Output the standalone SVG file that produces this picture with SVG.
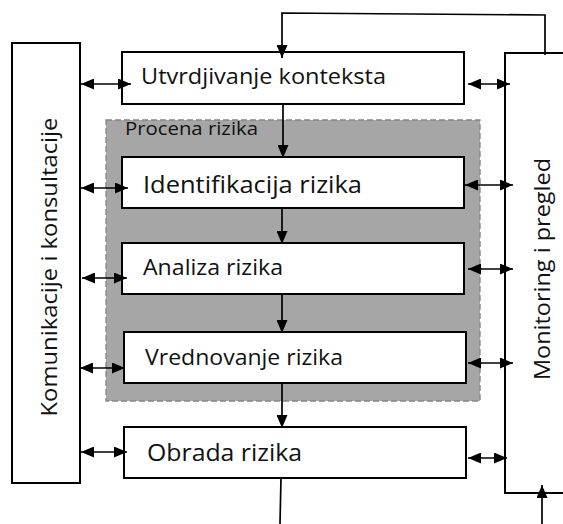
<svg xmlns="http://www.w3.org/2000/svg" width="563" height="524" viewBox="0 0 563 524">
  <style>
    .box { fill: #ffffff; stroke: #000000; stroke-width: 2; }
    .lbl { font-family: "Open Sans", "Noto Sans", sans-serif; fill: #111111; }
    .wire { fill: none; stroke: #000000; stroke-width: 1.7; }
    .two { marker-start: url(#headStart); marker-end: url(#headEnd); }
    .one { marker-end: url(#headEnd); }
  </style>
  <defs>
    <marker id="headEnd" viewBox="0 0 13 11" refX="13" refY="5.5" markerWidth="13" markerHeight="11" markerUnits="userSpaceOnUse" orient="auto">
      <path d="M0,0 L13,5.5 L0,11 Z" fill="#000000"/>
    </marker>
    <marker id="headStart" viewBox="0 0 13 11" refX="0" refY="5.5" markerWidth="13" markerHeight="11" markerUnits="userSpaceOnUse" orient="auto">
      <path d="M13,0 L0,5.5 L13,11 Z" fill="#000000"/>
    </marker>
  </defs>

  <rect width="563" height="524" fill="#ffffff"/>

  <!-- side panels -->
  <g id="komunikacije">
    <rect class="box" x="12" y="43" width="68" height="440"/>
    <text class="lbl" font-size="22" text-anchor="middle" textLength="299" lengthAdjust="spacingAndGlyphs" transform="translate(57,267) rotate(-90)">Komunikacije i konsultacije</text>
  </g>
  <g id="monitoring">
    <path class="box" d="M566,53 L505,53 L505,493 L566,493"/>
    <text class="lbl" font-size="22" text-anchor="middle" textLength="222" lengthAdjust="spacingAndGlyphs" transform="translate(550,269) rotate(-90)">Monitoring i pregled</text>
  </g>

  <!-- risk assessment group -->
  <g id="procena">
    <rect x="106" y="120" width="374" height="281" fill="#a6a6a6" stroke="#858585" stroke-width="1.3" stroke-dasharray="6 3"/>
    <text class="lbl" x="125" y="135" font-size="19" textLength="133" lengthAdjust="spacingAndGlyphs">Procena rizika</text>
  </g>

  <!-- process steps -->
  <g id="kontekst">
    <rect class="box" x="122" y="52" width="342" height="52"/>
    <text class="lbl" x="141" y="84" font-size="21.5" textLength="245" lengthAdjust="spacingAndGlyphs">Utvrdjivanje konteksta</text>
  </g>
  <g id="identifikacija">
    <rect class="box" x="122" y="157" width="342" height="51"/>
    <text class="lbl" x="143" y="193" font-size="24" textLength="219" lengthAdjust="spacingAndGlyphs">Identifikacija rizika</text>
  </g>
  <g id="analiza">
    <rect class="box" x="122" y="243" width="342" height="51"/>
    <text class="lbl" x="143" y="275" font-size="22" textLength="140" lengthAdjust="spacingAndGlyphs">Analiza rizika</text>
  </g>
  <g id="vrednovanje">
    <rect class="box" x="124" y="332" width="342" height="51"/>
    <text class="lbl" x="145" y="365" font-size="21.5" textLength="198" lengthAdjust="spacingAndGlyphs">Vrednovanje rizika</text>
  </g>
  <g id="obrada">
    <rect class="box" x="124" y="427" width="342" height="51"/>
    <text class="lbl" x="147" y="461" font-size="24" textLength="155" lengthAdjust="spacingAndGlyphs">Obrada rizika</text>
  </g>

  <!-- connectors -->
  <g id="connectors">
    <!-- feedback loop from monitoring back to context -->
    <path class="wire" d="M545,55 L545,15 L282,13 L282,58" style="marker-end:url(#headEnd)"/>
    <!-- main flow -->
    <line class="wire one" x1="283" y1="104" x2="283" y2="158"/>
    <line class="wire one" x1="282" y1="208" x2="282" y2="244"/>
    <line class="wire one" x1="282" y1="294" x2="282" y2="333"/>
    <line class="wire one" x1="282" y1="383" x2="282" y2="428"/>
    <line class="wire" x1="281" y1="478" x2="280" y2="524"/>
    <line class="wire one" x1="542" y1="524" x2="542" y2="485"/>
    <!-- communication links -->
    <line class="wire two" x1="81" y1="84" x2="131" y2="84"/>
    <line class="wire two" x1="81" y1="188" x2="128" y2="188"/>
    <line class="wire two" x1="82" y1="278" x2="127" y2="278"/>
    <line class="wire two" x1="80" y1="368" x2="125" y2="368"/>
    <line class="wire two" x1="81" y1="452" x2="127" y2="452"/>
    <!-- monitoring links -->
    <line class="wire two" x1="468" y1="84" x2="510" y2="84"/>
    <line class="wire two" x1="465" y1="185" x2="513" y2="185"/>
    <line class="wire two" x1="468" y1="269" x2="513" y2="269"/>
    <line class="wire two" x1="468" y1="363" x2="513" y2="363"/>
    <line class="wire two" x1="468" y1="458" x2="507" y2="458"/>
  </g>
</svg>
